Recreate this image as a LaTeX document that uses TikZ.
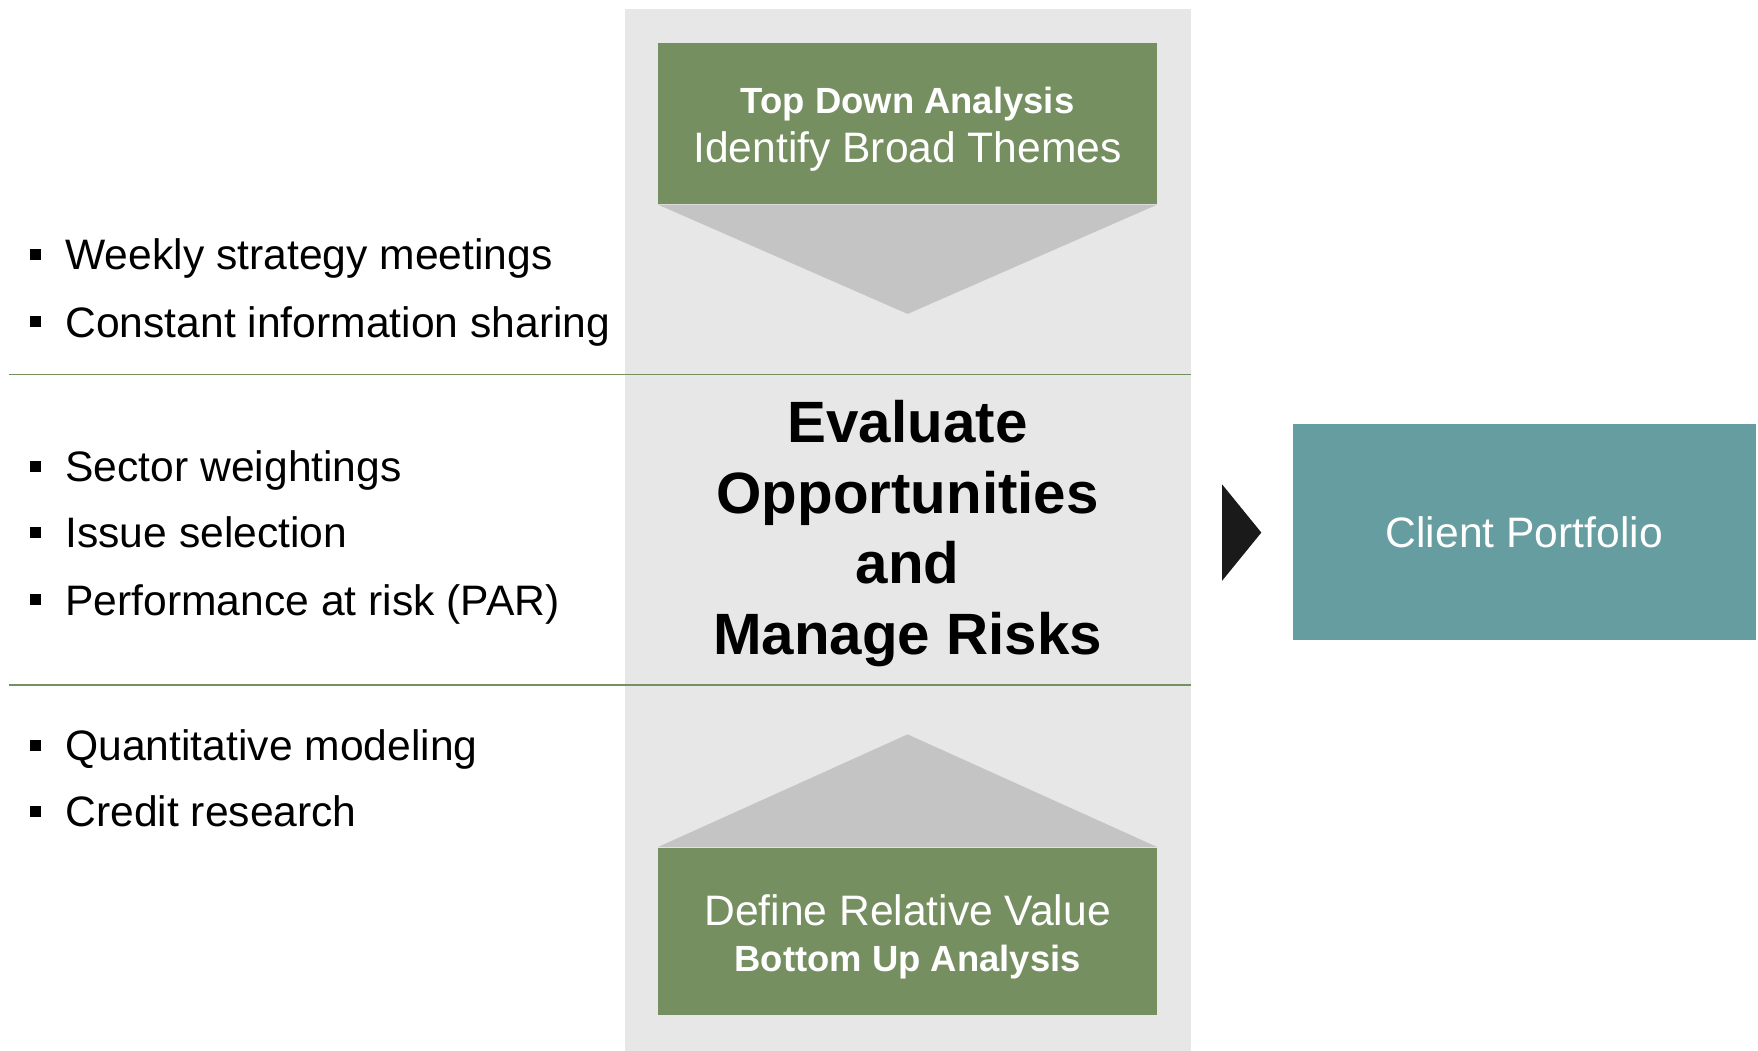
\documentclass[tikz,border=0pt]{standalone}
\usepackage{fontspec}
\setmainfont{Liberation Sans}
\usepackage{xcolor}
\usetikzlibrary{positioning}

\definecolor{boxgreen}{HTML}{758F60}
\definecolor{panelgray}{HTML}{E7E7E7}
\definecolor{chevgray}{HTML}{C4C4C4}
\definecolor{clientteal}{HTML}{669DA1}
\definecolor{tipblack}{HTML}{1A1A1A}

\tikzset{
    greenbox/.style={fill=boxgreen, inner sep=0pt, minimum width=222.5pt},
    boxtext/.style={text=white, align=center, inner sep=0pt, font=\fontsize{19}{22.5}\selectfont},
    bulletmark/.style={fill=black, minimum size=5pt, inner sep=0pt},
    item/.style={anchor=west, inner sep=0pt, text height=13.6pt, text depth=0pt,
        font=\fontsize{19}{22}\selectfont},
    rowline/.style={draw=boxgreen, line width=0.8pt}
}

\begin{document}
\begin{tikzpicture}[x=0.5pt, y=-0.5pt]
    \useasboundingbox (0,0) rectangle (1568,937.4);
    \fill[panelgray] (557,8) rectangle (1062,937.4);

    \node[greenbox, minimum height=72pt] (top) at (809.5,110) {};
    \node[boxtext] (toptext) at ([yshift=-2.75pt]top.center)
        {{\bfseries\fontsize{16.25}{22.5}\selectfont Top Down Analysis}\\[-0.5pt]Identify Broad Themes};
    \coordinate (topdown) at (809.5,280);
    \fill[chevgray] (top.south west) -- (top.south east) -- (topdown) -- cycle;

    \coordinate (bottomup) at (809.5,655);
    \node[greenbox, minimum height=74.5pt] (bottom) at (809.5,830.5) {};
    \node[boxtext] (bottomtext) at ([yshift=-2.5pt]bottom.center)
        {Define Relative Value\\[-2pt]{\bfseries\fontsize{16.25}{22.5}\selectfont Bottom Up Analysis}};
    \fill[chevgray] (bottom.north west) -- (bottom.north east) -- (bottomup) -- cycle;

    \draw[rowline] (8,334) -- (1062,334);
    \draw[rowline] (8,611) -- (1062,611);

    \node[align=center, font=\bfseries\fontsize{26}{31.5}\selectfont] (eval) at (809.5,476)
        {Evaluate\\Opportunities\\and\\Manage Risks};

    \node[fill=clientteal, text=white, minimum width=206.5pt, minimum height=96.5pt,
        font=\fontsize{19}{22}\selectfont] (client) at (1359.5,474.5) {Client Portfolio};
    \fill[tipblack] (1090,432) -- (1125,475) -- (1090,518) -- cycle;

    \foreach \y/\t in {227/Weekly strategy meetings, 287/Constant information sharing,
        416/Sector weightings, 475/Issue selection, 535/Performance at risk (PAR),
        665/Quantitative modeling, 724/Credit research}
    {
        \node[bulletmark] (b\y) at (32,\y) {};
        \node[item] (t\y) at (58,\y) {\t};
    }
\end{tikzpicture}
\end{document}
